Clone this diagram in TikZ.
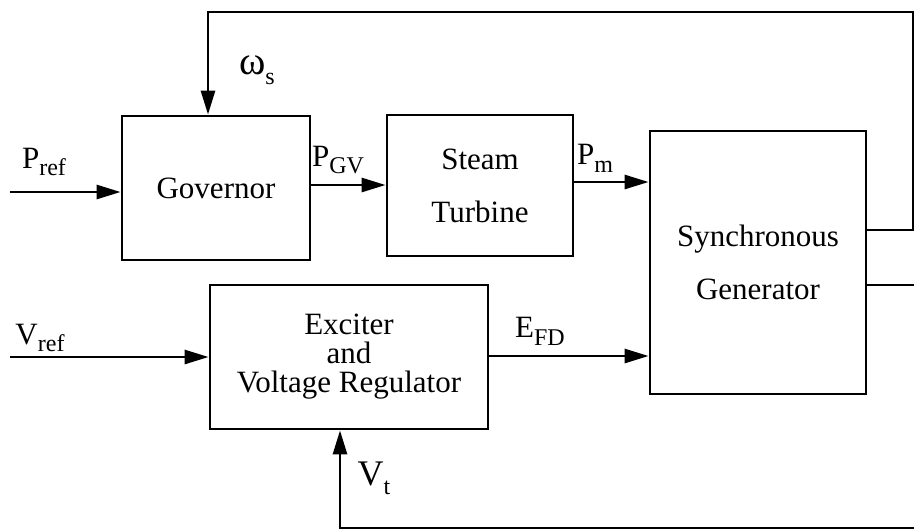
\documentclass[tikz,border=0pt]{standalone}
\usepackage{fontspec}
\setmainfont{Liberation Serif}
\usetikzlibrary{arrows.meta}
\newcommand\lbsub[2]{#1\raisebox{-0.55ex}{\fontsize{12}{12}\selectfont #2}}
\begin{document}
\begin{tikzpicture}[x=0.5pt,y=-0.5pt,
  blk/.style={draw,line width=1.4pt,inner sep=0pt,align=center,font=\fontsize{15.5}{14.5}\selectfont},
  wire/.style={line width=1.4pt},
  arr/.style={wire,-{Triangle[length=12pt,width=7pt]}},
  lbl/.style={inner sep=0pt,font=\fontsize{15.5}{18}\selectfont}]
\useasboundingbox (0,0) rectangle (914,531);
\node[blk,minimum width=94pt,minimum height=72pt] (gov) at (216,188) {Governor};
\node[blk,minimum width=93pt,minimum height=70.5pt] (tur) at (480,185.5) {Steam\\[12pt]Turbine};
\node[blk,minimum width=108pt,minimum height=131.5pt] (gen) at (758,262.5) {Synchronous\\[12pt]Generator};
\node[blk,minimum width=139pt,minimum height=72pt] (exc) at (349,357) {Exciter\\and\\Voltage Regulator};
% inputs
\coordinate (pin) at (10,192);
\coordinate (vin) at (10,357);
\draw[arr] (pin) -- (pin -| gov.west);
\draw[arr] (vin) -- (vin -| exc.west);
\coordinate (pgv) at (310,185);
\draw[arr] (gov.east |- pgv) -- (tur.west |- pgv);
\coordinate (pm) at (573,182);
\draw[arr] (tur.east |- pm) -- (gen.west |- pm);
\coordinate (efd) at (488,356);
\draw[arr] (exc.east |- efd) -- (gen.west |- efd);
% feedback loops
\coordinate (o1) at (913,230);
\coordinate (tr) at (913,12);
\coordinate (tl) at (208,12);
\draw[arr] (gen.east |- o1) -- (o1) -- (tr) -- (tl) -- (tl |- gov.north);
\coordinate (o2) at (914,285);
\draw[wire] (gen.east |- o2) -- (o2);
\coordinate (br) at (914,528);
\coordinate (bl) at (340,528);
\draw[arr] (br) -- (bl) -- (bl |- exc.south);
% labels
\node[lbl] (lpref) at (44,162) {\lbsub{P}{ref}};
\node[lbl] (lpgv) at (338,160) {\lbsub{P}{GV}};
\node[lbl] (lpm) at (595,158) {\lbsub{P}{m}};
\node[lbl] (lws) at (257,70) {\lbsub{\fontsize{20}{20}\selectfont ω}{s}};
\node[lbl] (lvref) at (40,338) {\lbsub{V}{ref}};
\node[lbl] (lefd) at (540,331) {\lbsub{E}{FD}};
\node[lbl,font=\fontsize{18}{20}\selectfont] (lvt) at (374,478) {\lbsub{V}{t}};
\end{tikzpicture}
\end{document}
